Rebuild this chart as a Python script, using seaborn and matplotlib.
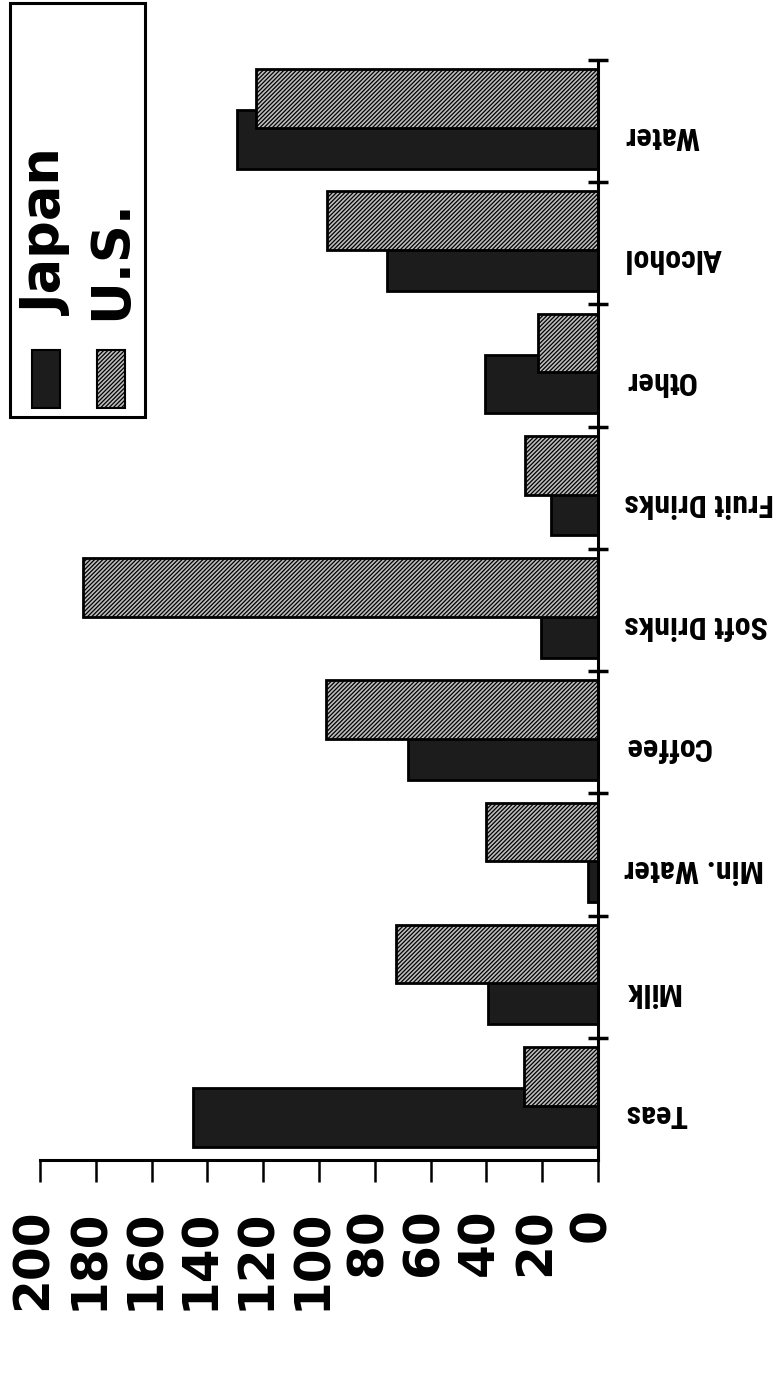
import numpy as np
import pandas as pd
import matplotlib.pyplot as plt
import matplotlib.transforms as mtransforms
from matplotlib.patches import Rectangle
import seaborn as sns

# data (bars run right-to-left, categories bottom-to-top)
categories = ['Teas', 'Milk', 'Min. Water', 'Coffee', 'Soft Drinks',
              'Fruit Drinks', 'Other', 'Alcohol', 'Water']
japan = [145, 39.5, 3.5, 68, 20.5, 17, 40.5, 75.5, 129.5]
us = [26.5, 72.5, 40, 97.5, 184.5, 26, 21.5, 97, 122.5]
series = ['Japan', 'U.S.']
value_ticks = list(range(0, 201, 20))

sns.set_style('white')
plt.rcParams['font.family'] = ['DejaVu Sans']
plt.rcParams['hatch.linewidth'] = 0.9
plt.rcParams['text.color'] = 'black'
plt.rcParams['xtick.color'] = 'black'
plt.rcParams['ytick.color'] = 'black'

dark = '#1c1c1c'
light = '#bdbdbd'
pattern = '////////'
narrow = ['Roboto Condensed', 'Liberation Sans Narrow', 'Roboto', 'DejaVu Sans']

idx = np.arange(len(categories))
df_jp = pd.DataFrame({'pos': idx - 0.15, 'value': japan})   # lower bar in each band
df_us = pd.DataFrame({'pos': idx + 0.185, 'value': us})     # upper bar, overlaps japan

fig = plt.figure(figsize=(7.75, 13.91), dpi=100)
ax = fig.add_axes([40 / 775, 231 / 1391, 558 / 775, 1100 / 1391])

sns.barplot(data=df_jp, x='value', y='pos', orient='y', native_scale=True,
            width=0.48, color=dark, saturation=1, edgecolor='black',
            linewidth=2, errorbar=None, ax=ax)
sns.barplot(data=df_us, x='value', y='pos', orient='y', native_scale=True,
            width=0.48, color=light, saturation=1, edgecolor='black',
            linewidth=2, hatch=pattern, errorbar=None, ax=ax)

ax.set_xlim(200, 0)
ax.set_ylim(-0.5, 8.5)
ax.set_xlabel('')
ax.set_ylabel('')

##-> value axis (bottom)
ax.set_xticks(value_ticks)
ax.set_xticklabels([str(t) for t in value_ticks], rotation=90,
                   fontsize=35, fontweight='bold', color='black')
ax.tick_params(axis='x', direction='out', length=16, width=1.8, pad=19,
               bottom=True, colors='black')
shift_x = mtransforms.ScaledTranslation(-7 / 100, 0, fig.dpi_scale_trans)
for lab in ax.get_xticklabels():
    lab.set_transform(lab.get_transform() + shift_x)

##-> category axis (right, labels upside down)
ax.yaxis.tick_right()
ax.set_yticks(idx)
ax.set_yticklabels(categories, rotation=180, fontsize=23, fontweight='bold',
                   family=narrow, color='black')
ax.set_yticks(idx + 0.5, minor=True)
ax.tick_params(axis='y', which='major', length=0, pad=19)
ax.tick_params(axis='y', which='minor', direction='inout', length=15,
               width=2.5, right=True, left=False, colors='black')
shift_y = mtransforms.ScaledTranslation(0, -12 / 100, fig.dpi_scale_trans)
for lab in ax.get_yticklabels():
    lab.set_transform(lab.get_transform() + shift_y)

for side in ['top', 'left']:
    ax.spines[side].set_visible(False)
for side in ['bottom', 'right']:
    ax.spines[side].set_linewidth(2.2)
    ax.spines[side].set_color('black')

##-> legend, drawn by hand so the text can be rotated
fig.add_artist(Rectangle((10 / 775, 1 - 417 / 1391), 135 / 775, 414 / 1391,
                         transform=fig.transFigure, fill=False,
                         lw=2.2, ec='black'))
fig.add_artist(Rectangle((32 / 775, 1 - 408 / 1391), 28 / 775, 58 / 1391,
                         transform=fig.transFigure, fc=dark, ec='black', lw=1.5))
fig.add_artist(Rectangle((97 / 775, 1 - 408 / 1391), 28 / 775, 58 / 1391,
                         transform=fig.transFigure, fc=light, ec='black',
                         lw=1.5, hatch=pattern))
fig.text(62 / 775, 1 - 315 / 1391, series[0], rotation=90, rotation_mode='anchor',
         ha='left', va='baseline', fontsize=38, fontweight='bold', color='black')
fig.text(126 / 775, 1 - 320 / 1391, series[1], rotation=90, rotation_mode='anchor',
         ha='left', va='baseline', fontsize=38, fontweight='bold', color='black')

fig.savefig('out.png', dpi=100)
